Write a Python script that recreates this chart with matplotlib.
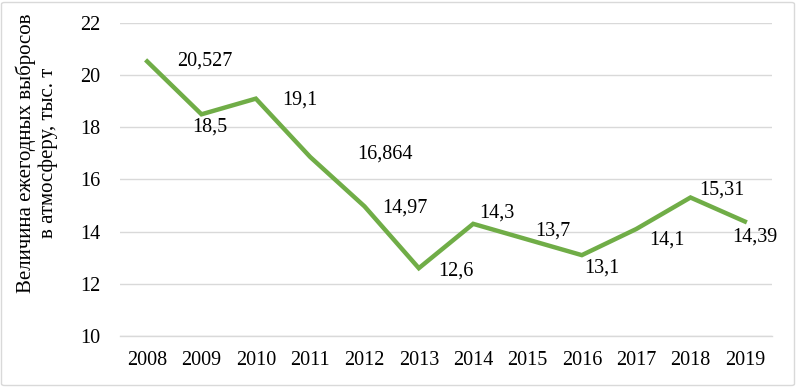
import matplotlib
matplotlib.use("Agg")
import matplotlib.pyplot as plt
from matplotlib.patches import FancyBboxPatch

years = ["2008", "2009", "2010", "2011", "2012", "2013", "2014", "2015", "2016", "2017", "2018", "2019"]
values = [20.527, 18.5, 19.1, 16.864, 14.97, 12.6, 14.3, 13.7, 13.1, 14.1, 15.31, 14.39]
labels = ["20,527", "18,5", "19,1", "16,864", "14,97", "12,6", "14,3", "13,7", "13,1", "14,1", "15,31", "14,39"]
# label offsets in pixels (dx, dy; dy positive = up)
offsets = [(58, 0), (8, -13), (44, -1), (75, 3), (40, -2), (37, -3), (24, 11), (25, 8), (20, -13), (31, -11), (31, 7), (10, -16)]

plt.rcParams['font.family'] = ['Liberation Serif', 'DejaVu Serif']
W, H = 797, 387
fig = plt.figure(figsize=(W / 100, H / 100), dpi=100)
ax = fig.add_axes([120 / W, 1 - 336 / H, (772 - 120) / W, (336 - 23) / H])

FS = 14.5
x = list(range(len(years)))
ax.plot(x, values, color="#70AD47", linewidth=3.2, solid_joinstyle="miter", zorder=3)
for xi, v, lab, (dx, dy) in zip(x, values, labels, offsets):
    ax.annotate(lab, (xi, v), xytext=(dx, dy), textcoords="offset pixels",
                ha="center", va="center", fontsize=FS, color="#000000", zorder=4)

ax.set_xlim(-0.5, len(years) - 0.5)
ax.set_ylim(10, 22)
ax.set_yticks([10, 12, 14, 16, 18, 20, 22])
ax.set_xticks(x)
ax.set_xticklabels(years)
ax.tick_params(axis="both", length=0, labelsize=FS, colors="#000000")
ax.tick_params(axis="y", pad=14)
ax.tick_params(axis="x", pad=11)
ax.grid(axis="y", color="#D9D9D9", linewidth=1.0)
ax.set_axisbelow(True)
for s in ["top", "right", "left"]:
    ax.spines[s].set_visible(False)
ax.spines["bottom"].set_color("#D9D9D9")
ax.spines["bottom"].set_linewidth(1.0)

fig.text(37 / W, 1 - 153 / H, "Величина ежегодных выбросов\nв атмосферу, тыс. т",
         rotation=90, ha="center", va="center", multialignment="center",
         fontsize=15, linespacing=1.15)

border = FancyBboxPatch((1.5 / W, 1.5 / H), (W - 4) / W, (H - 4) / H,
                        boxstyle="round,pad=0,rounding_size=0.004",
                        transform=fig.transFigure, fill=False,
                        edgecolor="#D9D9D9", linewidth=1.0)
fig.patches.append(border)

fig.savefig("out.png", dpi=100)
